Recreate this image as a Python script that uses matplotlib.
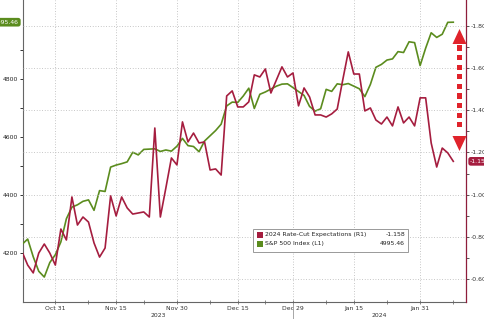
import numpy as np
import pandas as pd
import matplotlib
matplotlib.use("Agg")
import matplotlib.pyplot as plt
from matplotlib.patches import Rectangle, Polygon
from matplotlib.transforms import blended_transform_factory

# ── data: weekdays Oct 23 2023 .. Feb 8 2024 ─────────────────────────────────
dates = pd.bdate_range("2023-10-23", "2024-02-08")

# S&P 500 index (left axis); None = market holiday
spx = [4230, 4248, 4187, 4137, 4117, 4167, 4194, 4238, 4318, 4358,
       4366, 4378, 4383, 4347, 4415, 4412, 4496, 4503, 4508, 4514,
       4547, 4538, 4557, None, 4559, 4550, 4555, 4551, 4568, 4595,
       4570, 4567, 4549, 4586, 4604, 4622, 4644, 4707, 4720, 4719,
       4741, 4768, 4698, 4747, 4755, None, 4775, 4782, 4783, 4770,
       None, 4743, 4705, 4689, 4697, 4764, 4757, 4783, 4780, 4784,
       None, 4766, 4739, 4781, 4840, 4850, 4865, 4869, 4894, 4891,
       4928, 4925, 4846, 4906, 4959, 4943, 4954, 4995, 4995.46]

# 2024 rate-cut expectations (right axis, inverted)
cuts = [-0.728, -0.666, -0.629, -0.723, -0.766, -0.723, -0.666, -0.837, -0.785, -0.989,
        -0.856, -0.894, -0.870, -0.771, -0.704, -0.747, -0.994, -0.899, -0.989, -0.937,
        -0.908, -0.913, -0.918, -0.894, -1.316, -0.894, -1.032, -1.174, -1.141, -1.345,
        -1.250, -1.292, -1.245, -1.250, -1.117, -1.122, -1.093, -1.468, -1.492, -1.416,
        -1.416, -1.440, -1.568, -1.558, -1.596, -1.482, -1.544, -1.606, -1.558, -1.577,
        -1.421, -1.506, -1.463, -1.378, -1.378, -1.368, -1.383, -1.406, -1.544, -1.677,
        -1.572, -1.572, -1.397, -1.411, -1.354, -1.335, -1.368, -1.326, -1.416, -1.340,
        -1.368, -1.326, -1.459, -1.459, -1.245, -1.131, -1.221, -1.198, -1.158]

tick_dates = ["2023-10-31", "2023-11-15", "2023-11-30", "2023-12-15",
              "2023-12-29", "2024-01-15", "2024-01-31"]
minor_dates = ["2023-11-08", "2023-11-22", "2023-12-08", "2023-12-22",
               "2024-01-08", "2024-01-23", "2024-02-08"]
left_ticks = [4200, 4400, 4600, 4800]
right_ticks = [-1.8, -1.6, -1.4, -1.2, -1.0, -0.8, -0.6]
legend_labels = ["2024 Rate-Cut Expectations (R1)", "S&P 500 Index (L1)"]

RED = "#a51d3f"
GREEN = "#5b8c1e"
ARROW = "#e0232b"
GRID = "#b4b4b4"
FS = 4.4

plt.rcParams["font.family"] = ["DejaVu Sans"]

W, H = 485, 319
def fx(x): return x / W
def fy(y): return 1 - y / H

fig = plt.figure(figsize=(W / 100, H / 100), dpi=100)
ax = fig.add_axes([fx(23), fy(302), (466 - 23) / W, 302 / H])
ax2 = ax.twinx()

idx = np.arange(len(dates))
s = pd.Series(spx, dtype=float)
ok = s.notna().values
ax.plot(idx[ok], s.values[ok], color=GREEN, lw=1.2, zorder=3)
ax2.plot(idx, cuts, color=RED, lw=1.2, zorder=3)

# ── axes ─────────────────────────────────────────────────────────────────────
ax.set_xlim(0.15, 80.3)
ax.set_ylim(4031, 5072)
ax2.set_ylim(-0.491, -1.923)

pos = {d: i for i, d in enumerate(dates)}
maj = [pos[pd.Timestamp(d)] for d in tick_dates]
mnr = [pos[pd.Timestamp(d)] for d in minor_dates]
ax.set_xticks(maj)
ax.set_xticklabels([dates[i].strftime("%b %d") for i in maj], fontsize=FS, color="#333")
ax.set_xticks(mnr, minor=True)
ax.tick_params(axis="x", which="both", direction="inout", length=3, width=0.5,
               color="#555", pad=1.5)

ax.set_yticks(left_ticks)
ax.set_yticklabels([str(v) for v in left_ticks], fontsize=FS, color="#222")
ax.set_yticks([v + 100 for v in left_ticks], minor=True)
ax.tick_params(axis="y", which="both", direction="out", length=2.5, width=0.7,
               color="#333", pad=1)

ax2.set_yticks(right_ticks)
ax2.set_yticklabels(["%.2f" % v for v in right_ticks], fontsize=FS, color="#333")
ax2.set_yticks([v + 0.1 for v in right_ticks[:-1]], minor=True)
ax2.tick_params(axis="y", which="both", direction="out", length=2.5, width=0.7,
                color="#555", pad=1)

ax.xaxis.grid(True, which="major", ls=(0, (1, 2.2)), lw=0.6, color=GRID)
ax2.yaxis.grid(True, which="major", ls=(0, (1, 2.2)), lw=0.6, color=GRID)
ax2.set_axisbelow(True)

for a in (ax, ax2):
    a.spines["top"].set_visible(False)
ax.spines["right"].set_visible(False)
ax2.spines["left"].set_visible(False)
ax2.spines["bottom"].set_visible(False)
ax.spines["left"].set_color("#666")
ax.spines["bottom"].set_color("#666")
ax.spines["left"].set_linewidth(0.8)
ax.spines["bottom"].set_linewidth(0.8)
ax2.spines["right"].set_color("#8e1d3b")
ax2.spines["right"].set_linewidth(0.9)

# year labels + separator below the axis
tr = blended_transform_factory(ax.transData, ax.transAxes)
split = pos[pd.Timestamp("2023-12-29")]
x0, x1 = ax.get_xlim()
ax.text((x0 + split) / 2, -0.045, "2023", transform=tr, ha="center", va="center",
        fontsize=FS, color="#333")
ax.text((split + x1) / 2, -0.045, "2024", transform=tr, ha="center", va="center",
        fontsize=FS, color="#333")
ax.plot([split, split], [0, -0.06], transform=tr, color="#999", lw=0.6, clip_on=False)

# last-value tags on the axes
ax.annotate("%.2f" % spx[-1], xy=(0, spx[-1]), xycoords=("axes fraction", "data"),
            xytext=(-3, 0), textcoords="offset points", ha="right", va="center",
            fontsize=FS, color="white", annotation_clip=False,
            bbox=dict(boxstyle="round,pad=0.3,rounding_size=0.4", fc=GREEN, ec="none"))
ax2.annotate("%.3f" % cuts[-1], xy=(1, cuts[-1]), xycoords=("axes fraction", "data"),
             xytext=(3, 0), textcoords="offset points", ha="left", va="center",
             fontsize=FS, color="white", annotation_clip=False,
             bbox=dict(boxstyle="round,pad=0.3,rounding_size=0.4", fc=RED, ec="none"))

# ── red dashed double arrow on the right ─────────────────────────────────────
cx = 459.5
fig.add_artist(Polygon([(fx(cx), fy(29)), (fx(cx - 7), fy(44)), (fx(cx + 7), fy(44))],
                       closed=True, fc=ARROW, ec="none", transform=fig.transFigure))
fig.add_artist(Polygon([(fx(cx), fy(151)), (fx(cx - 7), fy(136)), (fx(cx + 7), fy(136))],
                       closed=True, fc=ARROW, ec="none", transform=fig.transFigure))
for k in range(9):
    yc = 48 + k * 9.6
    fig.add_artist(Rectangle((fx(cx - 2.6), fy(yc + 2.6)), 5.2 / W, 5.2 / H,
                             fc=ARROW, ec="none", transform=fig.transFigure))

# ── legend box ───────────────────────────────────────────────────────────────
fig.add_artist(Rectangle((fx(253), fy(252)), 155 / W, 23 / H, fc="white",
                         ec="#999", lw=0.7, transform=fig.transFigure, zorder=5))
vals = ["%.3f" % cuts[-1], "%.2f" % spx[-1]]
for r, (lab, val, col) in enumerate(zip(legend_labels, vals, [RED, GREEN])):
    yy = 234.5 + r * 9
    fig.add_artist(Rectangle((fx(257), fy(yy + 3)), 6 / W, 6 / H, fc=col, ec="none",
                             transform=fig.transFigure, zorder=6))
    fig.text(fx(265), fy(yy), lab, ha="left", va="center", fontsize=FS,
             color="#222", zorder=6)
    fig.text(fx(405), fy(yy), val, ha="right", va="center", fontsize=FS,
             color="#222", zorder=6)

fig.savefig("out.png", dpi=100)
